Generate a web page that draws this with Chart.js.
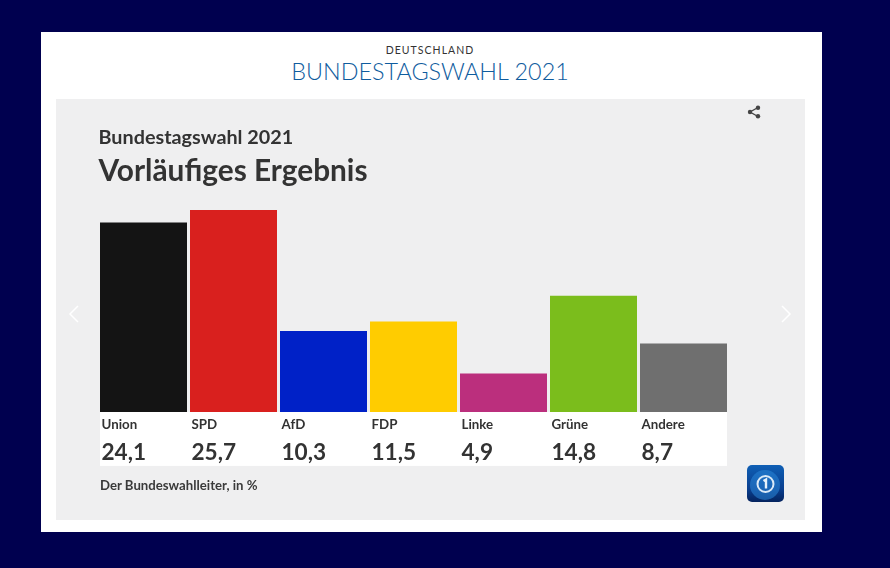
<!DOCTYPE html>
<html lang="de">
<head>
<meta charset="utf-8">
<title>Bundestagswahl 2021</title>
<script src="https://cdn.jsdelivr.net/npm/chart.js@4"></script>
<style>
  html, body { margin: 0; height: 100%; background: #00004f; overflow: hidden; }
  body { position: relative; width: 890px; height: 568px; font-family: Lato, sans-serif; }
  #card { position: absolute; left: 41px; top: 32px; width: 781px; height: 500px; background: #fff; }
  #panel { position: absolute; left: 56px; top: 99px; width: 749px; height: 421px; background: #efeff0; }
  #kicker { position: absolute; left: 41px; width: 778px; top: 44px; text-align: center; font-size: 10.5px; letter-spacing: 1.05px; color: #333; }
  #head { position: absolute; left: 41px; width: 778px; top: 57px; text-align: center; font-size: 23.4px; font-weight: 300; color: #0f5c9e; }
  #source { position: absolute; left: 100px; top: 477px; font-size: 13.2px; font-weight: 700; color: #3a3a3a; }
  #chart { position: absolute; left: 0; top: 0; }
  svg.icon { position: absolute; }
  #logo { position: absolute; left: 747px; top: 465px; width: 37px; height: 37px; border-radius: 5px; background: linear-gradient(#0f5fb5, #0a3f8f 65%, #04235e); }
</style>
</head>
<body>
<div id="card"></div>
<div id="panel"></div>
<div id="kicker">DEUTSCHLAND</div>
<div id="head">BUNDESTAGSWAHL 2021</div>
<canvas id="chart" width="890" height="568"></canvas>
<div id="source">Der Bundeswahlleiter, in %</div>

<svg class="icon" style="left:747px;top:105px" width="14" height="14" viewBox="0 0 14 14">
  <path d="M11 2.5 3 7l8 4.5" fill="none" stroke="#444" stroke-width="1.4"/>
  <circle cx="11" cy="2.8" r="2.2" fill="#444"/><circle cx="3" cy="7" r="2.2" fill="#444"/><circle cx="11" cy="11.2" r="2.2" fill="#444"/>
</svg>
<svg class="icon" style="left:68px;top:305px" width="12" height="18" viewBox="0 0 12 18">
  <path d="M10 1 2 9l8 8" fill="none" stroke="#fff" stroke-width="1.5"/>
</svg>
<svg class="icon" style="left:780px;top:305px" width="12" height="18" viewBox="0 0 12 18">
  <path d="M2 1l8 8-8 8" fill="none" stroke="#fff" stroke-width="1.5"/>
</svg>
<div id="logo">
  <svg width="37" height="37" viewBox="0 0 37 37">
    <circle cx="18" cy="20" r="15" fill="#2a86d8" opacity="0.55"/>
    <circle cx="18.5" cy="19" r="8" fill="none" stroke="#d9e9f7" stroke-width="2"/>
    <path d="M16.5 16l2.5-1.5v9" fill="none" stroke="#e8f2fb" stroke-width="2.4"/>
  </svg>
</div>

<script>
// Zweitstimmen, vorlaeufiges Ergebnis in %
const parties = ['Union', 'SPD', 'AfD', 'FDP', 'Linke', 'Grüne', 'Andere'];
const shares = [24.1, 25.7, 10.3, 11.5, 4.9, 14.8, 8.7];
const shareLabels = ['24,1', '25,7', '10,3', '11,5', '4,9', '14,8', '8,7'];
const partyColors = ['#141414', '#d9201e', '#0021c7', '#ffcc00', '#bb2f7d', '#7bbd1c', '#6f6f6f'];

const textColor = '#333333';

// white strip behind the party names and numbers
const labelStrip = {
    id: 'labelStrip',
    beforeDraw(chart) {
        const { ctx, chartArea } = chart;
        ctx.save();
        ctx.fillStyle = '#ffffff';
        ctx.fillRect(chartArea.left + 1.5, chartArea.bottom, chartArea.width - 3, 54);
        ctx.restore();
    }
};

new Chart(document.getElementById('chart'), {
    type: 'bar',
    plugins: [labelStrip],
    data: {
        labels: parties,
        datasets: [{
            data: shares,
            backgroundColor: partyColors,
            barPercentage: 87 / 90,
            categoryPercentage: 1
        }]
    },
    options: {
        responsive: false,
        animation: false,
        layout: { padding: { left: 98.5, right: 161.5, top: 126, bottom: 101 } },
        plugins: {
            legend: { display: false },
            tooltip: { enabled: false },
            title: {
                display: true,
                text: 'Bundestagswahl 2021',
                align: 'start',
                color: textColor,
                font: { family: 'Lato', size: 19.8, weight: 'bold' },
                padding: { top: 0, bottom: 3.3 }
            },
            subtitle: {
                display: true,
                text: 'Vorläufiges Ergebnis',
                align: 'start',
                color: textColor,
                font: { family: 'Lato', size: 29.8, weight: 'bold' },
                padding: { top: 0, bottom: 11 }
            }
        },
        scales: {
            y: { display: false, min: 0, max: 27 },
            x: {
                grid: { display: false, drawTicks: false },
                border: { display: false },
                ticks: {
                    align: 'start',
                    labelOffset: -42,
                    padding: 5,
                    autoSkip: false,
                    maxRotation: 0,
                    color: textColor,
                    font: { family: 'Lato', size: 13.3, weight: 'bold' }
                }
            },
            xValues: {
                type: 'category',
                labels: shareLabels,
                position: 'bottom',
                offset: true,
                grid: { display: false, drawTicks: false },
                border: { display: false },
                ticks: {
                    align: 'start',
                    labelOffset: -42,
                    padding: 1,
                    autoSkip: false,
                    maxRotation: 0,
                    color: textColor,
                    font: { family: 'Lato', size: 22.6, weight: 'bold' }
                }
            }
        }
    }
});
</script>
</body>
</html>
